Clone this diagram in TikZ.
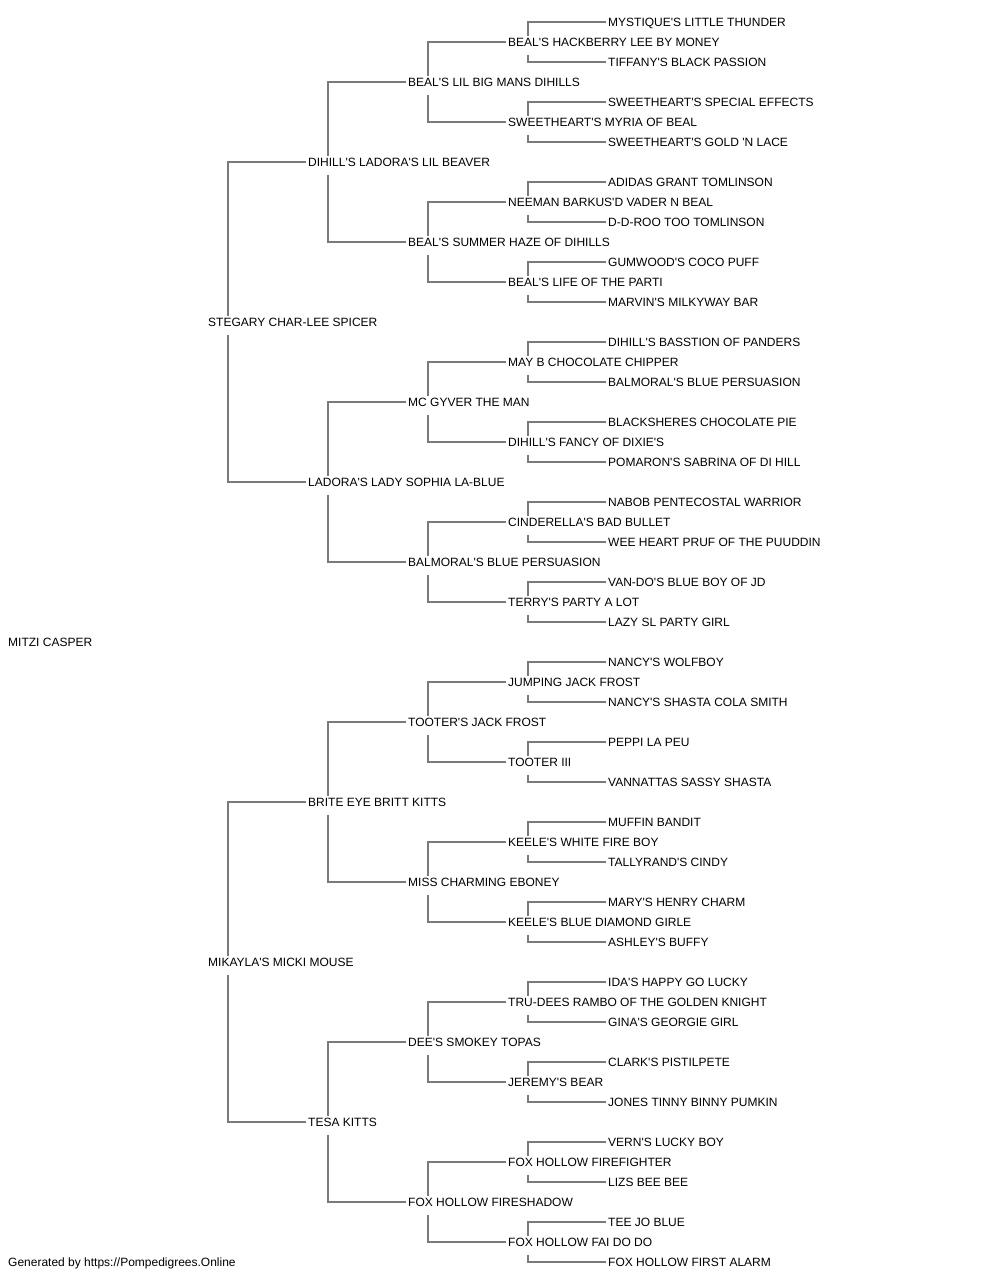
\documentclass[tikz,border=0pt]{standalone}
\usepackage{fontspec}
\setmainfont{Liberation Sans}[Ligatures=TeXOff]
\usepackage{tikz}
\definecolor{pedgray}{HTML}{7A7A7A}

\begin{document}
\begin{tikzpicture}[grow'=right,growth parent anchor=west,
  every node/.style={anchor=west,inner xsep=2pt,text height=13pt,text depth=4.4pt,font=\fontsize{12}{14}\selectfont},
  level/.style={sibling distance=1280pt/2^#1,level distance=100pt},
  level 1/.style={level distance=200pt,edge from parent/.style={draw=none}},
  level 2/.style={edge from parent/.style={draw=pedgray,line width=1.5pt,shorten <=9.5pt}},
  edge from parent path={([xshift=22pt,yshift=-3pt]\tikzparentnode.west) |- (\tikzchildnode.west)}]
\useasboundingbox (0,0) rectangle (1000pt,-1280pt);
\node (r) at (6pt,-642pt) {MITZI CASPER}
  child {
  node (s) {STEGARY CHAR-LEE SPICER}
  child {
  node (ss) {DIHILL'S LADORA'S LIL BEAVER}
    child {
    node (sss) {BEAL'S LIL BIG MANS DIHILLS}
      child {
      node (ssss) {BEAL'S HACKBERRY LEE BY MONEY}
        child {node (sssss) {MYSTIQUE'S LITTLE THUNDER}}
        child {node (ssssd) {TIFFANY'S BLACK PASSION}}
      }
      child {
      node (sssd) {SWEETHEART'S MYRIA OF BEAL}
        child {node (sssds) {SWEETHEART'S SPECIAL EFFECTS}}
        child {node (sssdd) {SWEETHEART'S GOLD 'N LACE}}
      }
    }
    child {
    node (ssd) {BEAL'S SUMMER HAZE OF DIHILLS}
      child {
      node (ssds) {NEEMAN BARKUS'D VADER N BEAL}
        child {node (ssdss) {ADIDAS GRANT TOMLINSON}}
        child {node (ssdsd) {D-D-ROO TOO TOMLINSON}}
      }
      child {
      node (ssdd) {BEAL'S LIFE OF THE PARTI}
        child {node (ssdds) {GUMWOOD'S COCO PUFF}}
        child {node (ssddd) {MARVIN'S MILKYWAY BAR}}
      }
    }
  }
  child {
  node (sd) {LADORA'S LADY SOPHIA LA-BLUE}
    child {
    node (sds) {MC GYVER THE MAN}
      child {
      node (sdss) {MAY B CHOCOLATE CHIPPER}
        child {node (sdsss) {DIHILL'S BASSTION OF PANDERS}}
        child {node (sdssd) {BALMORAL'S BLUE PERSUASION}}
      }
      child {
      node (sdsd) {DIHILL'S FANCY OF DIXIE'S}
        child {node (sdsds) {BLACKSHERES CHOCOLATE PIE}}
        child {node (sdsdd) {POMARON'S SABRINA OF DI HILL}}
      }
    }
    child {
    node (sdd) {BALMORAL'S BLUE PERSUASION}
      child {
      node (sdds) {CINDERELLA'S BAD BULLET}
        child {node (sddss) {NABOB PENTECOSTAL WARRIOR}}
        child {node (sddsd) {WEE HEART PRUF OF THE PUUDDIN}}
      }
      child {
      node (sddd) {TERRY'S PARTY A LOT}
        child {node (sddds) {VAN-DO'S BLUE BOY OF JD}}
        child {node (sdddd) {LAZY SL PARTY GIRL}}
      }
    }
  }
  }
  child {
  node (d) {MIKAYLA'S MICKI MOUSE}
  child {
  node (ds) {BRITE EYE BRITT KITTS}
    child {
    node (dss) {TOOTER'S JACK FROST}
      child {
      node (dsss) {JUMPING JACK FROST}
        child {node (dssss) {NANCY'S WOLFBOY}}
        child {node (dsssd) {NANCY'S SHASTA COLA SMITH}}
      }
      child {
      node (dssd) {TOOTER III}
        child {node (dssds) {PEPPI LA PEU}}
        child {node (dssdd) {VANNATTAS SASSY SHASTA}}
      }
    }
    child {
    node (dsd) {MISS CHARMING EBONEY}
      child {
      node (dsds) {KEELE'S WHITE FIRE BOY}
        child {node (dsdss) {MUFFIN BANDIT}}
        child {node (dsdsd) {TALLYRAND'S CINDY}}
      }
      child {
      node (dsdd) {KEELE'S BLUE DIAMOND GIRLE}
        child {node (dsdds) {MARY'S HENRY CHARM}}
        child {node (dsddd) {ASHLEY'S BUFFY}}
      }
    }
  }
  child {
  node (dd) {TESA KITTS}
    child {
    node (dds) {DEE'S SMOKEY TOPAS}
      child {
      node (ddss) {TRU-DEES RAMBO OF THE GOLDEN KNIGHT}
        child {node (ddsss) {IDA'S HAPPY GO LUCKY}}
        child {node (ddssd) {GINA'S GEORGIE GIRL}}
      }
      child {
      node (ddsd) {JEREMY'S BEAR}
        child {node (ddsds) {CLARK'S PISTILPETE}}
        child {node (ddsdd) {JONES TINNY BINNY PUMKIN}}
      }
    }
    child {
    node (ddd) {FOX HOLLOW FIRESHADOW}
      child {
      node (ddds) {FOX HOLLOW FIREFIGHTER}
        child {node (dddss) {VERN'S LUCKY BOY}}
        child {node (dddsd) {LIZS BEE BEE}}
      }
      child {
      node (dddd) {FOX HOLLOW FAI DO DO}
        child {node (dddds) {TEE JO BLUE}}
        child {node (ddddd) {FOX HOLLOW FIRST ALARM}}
      }
    }
  }
  };
\node (gen) at (6pt,-1262pt) {Generated by https://Pompedigrees.Online};
\end{tikzpicture}
\end{document}
